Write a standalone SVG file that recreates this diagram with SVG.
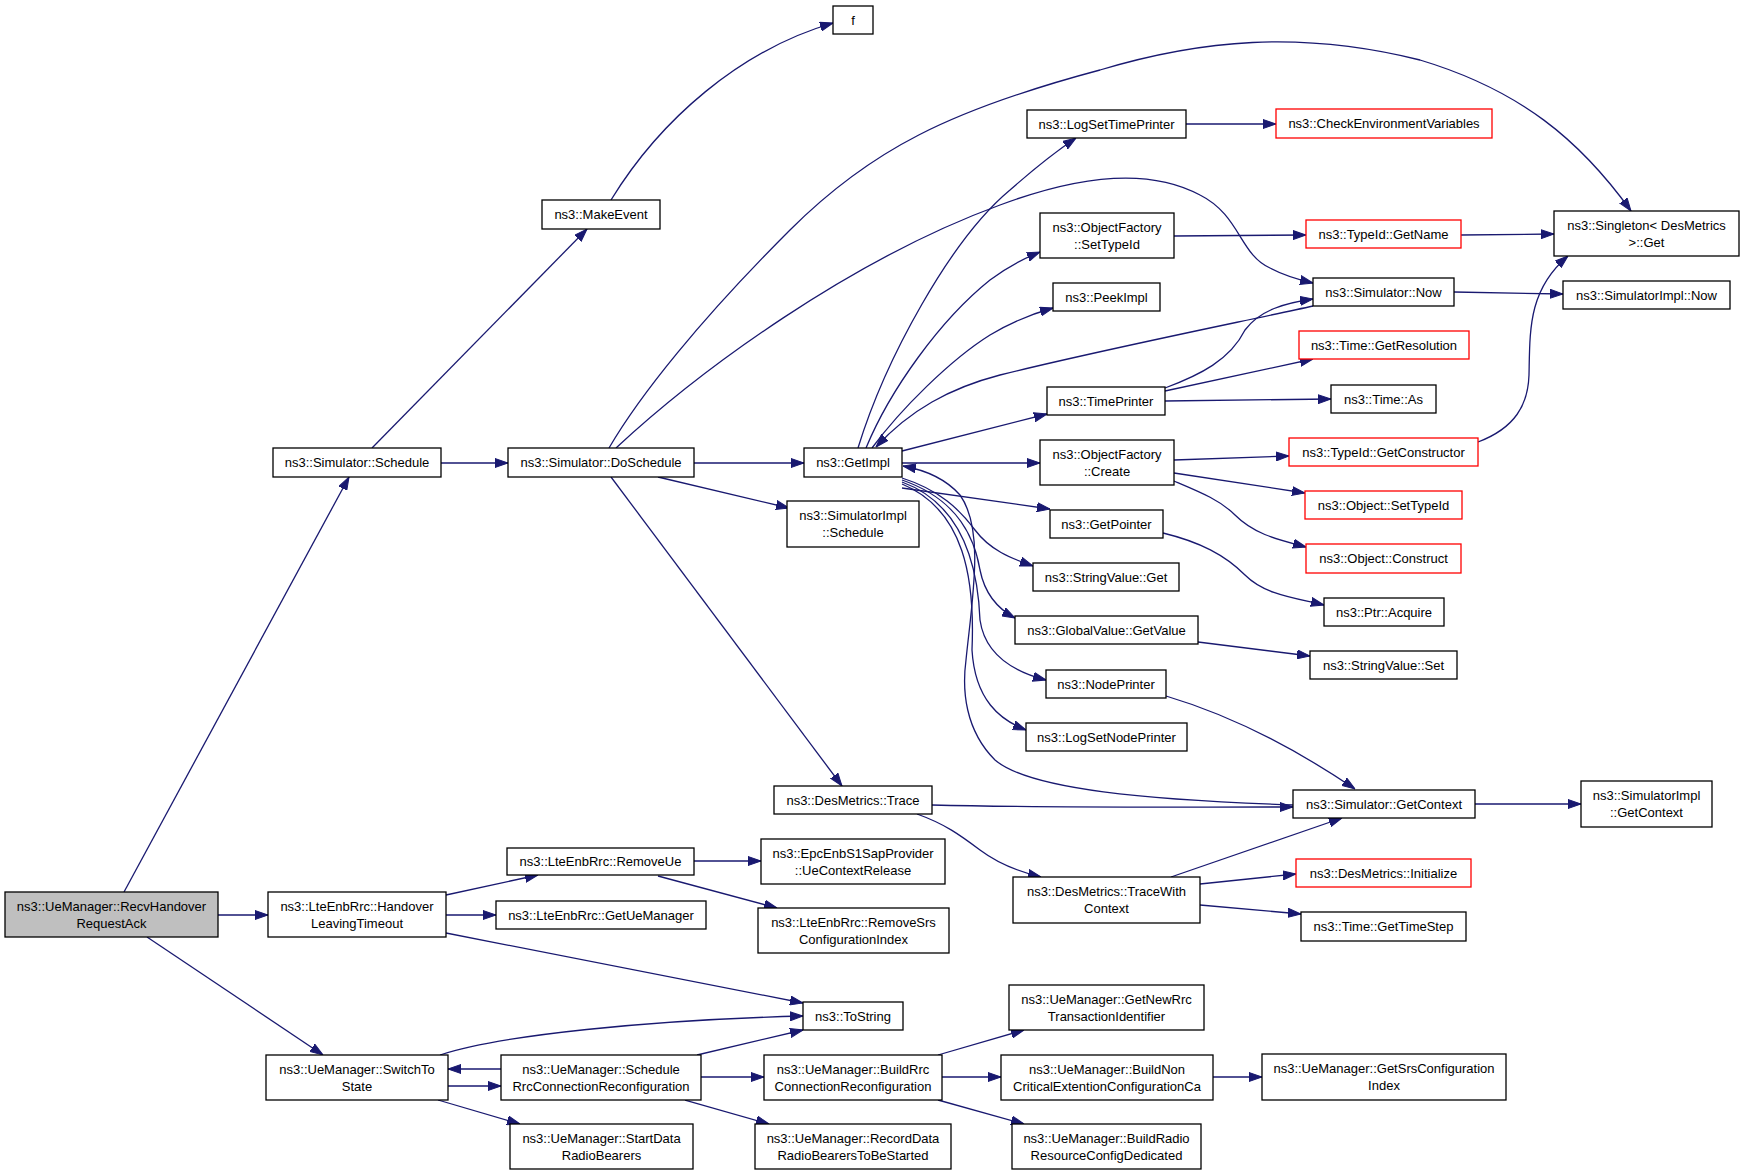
<svg xmlns="http://www.w3.org/2000/svg" width="1744" height="1175" viewBox="0 0 1744 1175">
<style>
.n rect{fill:#ffffff;stroke:#000000;stroke-width:1.3}
.n.r rect{stroke:#ff0000}
.n.g rect{fill:#bfbfbf}
.n text{font-family:"Liberation Sans",Arial,sans-serif;font-size:13px;fill:#000000;text-anchor:middle}
#edges path{fill:none;stroke:#191970;stroke-width:1.3;marker-end:url(#a)}
</style>
<defs>
<marker id="a" markerWidth="13" markerHeight="10" refX="13" refY="5" orient="auto" markerUnits="userSpaceOnUse"><path d="M0,0.5 L13,5 L0,9.5 z" fill="#191970" stroke="#191970" stroke-width="1"/></marker>
</defs>
<rect width="1744" height="1175" fill="#ffffff"/>
<g id="edges">
<path d="M124,892 L349,477"/>
<path d="M372,448 L587,229"/>
<path d="M611,200 C660,120 740,50 833,23"/>
<path d="M441,463 L508,463"/>
<path d="M609,448 C640,395 700,320 790,230 C870,150 950,110 1100,70 C1200,40 1300,30 1420,60 C1520,90 1580,140 1631,211"/>
<path d="M616,448 C700,370 850,260 1000,205 C1080,175 1150,168 1200,195 C1240,215 1240,255 1270,268 C1285,276 1300,280 1313,283"/>
<path d="M694,463 L804,463"/>
<path d="M658,477 L789,508"/>
<path d="M611,477 L842,786"/>
<path d="M858,448 C885,360 950,240 1010,190 C1035,168 1055,152 1076,138"/>
<path d="M866,448 C890,390 940,320 990,280 C1010,265 1025,258 1040,252"/>
<path d="M872,448 C900,410 950,360 990,335 C1015,320 1035,313 1053,308"/>
<path d="M1313,306 C1250,320 1100,350 1000,375 C950,388 910,410 876,447"/>
<path d="M902,451 L1047,414"/>
<path d="M1165,388 C1200,375 1230,360 1245,330 C1260,310 1285,303 1313,299"/>
<path d="M1165,391 L1313,359"/>
<path d="M1165,401 L1331,399"/>
<path d="M902,463 L1040,463"/>
<path d="M1174,460 L1289,456"/>
<path d="M1174,473 L1305,493"/>
<path d="M1174,481 C1200,492 1220,500 1235,515 C1255,535 1280,540 1306,547"/>
<path d="M1478,442 C1515,428 1528,405 1529,375 C1530,330 1528,290 1568,256"/>
<path d="M1174,236 L1306,235"/>
<path d="M1461,235 L1554,234"/>
<path d="M1186,124 L1276,124"/>
<path d="M1454,292 L1563,294"/>
<path d="M902,488 L1050,509"/>
<path d="M902,478 C940,490 960,510 975,530 C990,550 1010,558 1033,566"/>
<path d="M902,480 C960,500 975,540 980,570 C985,595 1000,610 1015,618"/>
<path d="M902,482 C965,505 978,570 980,620 C985,655 1015,672 1046,680"/>
<path d="M902,484 C965,510 975,580 972,650 C975,700 1000,720 1026,730"/>
<path d="M1293,805 C1150,800 1030,790 995,760 C965,730 962,690 966,660 C972,600 985,530 960,495 C945,478 925,470 903,466"/>
<path d="M1166,696 C1230,715 1290,745 1355,789"/>
<path d="M1163,533 C1200,542 1225,555 1245,575 C1265,595 1295,598 1324,605"/>
<path d="M1198,642 L1310,656"/>
<path d="M932,805 C1050,808 1150,807 1293,807"/>
<path d="M917,814 C945,824 960,835 980,850 C1000,865 1020,872 1041,877"/>
<path d="M1171,877 L1342,818"/>
<path d="M1200,884 L1296,874"/>
<path d="M1200,905 L1301,914"/>
<path d="M1475,804 L1581,804"/>
<path d="M218,915 L268,915"/>
<path d="M147,937 L323,1055"/>
<path d="M446,895 L538,875"/>
<path d="M446,915 L496,915"/>
<path d="M446,933 L803,1003"/>
<path d="M694,861 L761,861"/>
<path d="M658,876 L777,908"/>
<path d="M440,1055 C500,1035 650,1020 803,1016"/>
<path d="M501,1069 L448,1069"/>
<path d="M448,1086 L501,1086"/>
<path d="M438,1100 L520,1124"/>
<path d="M697,1055 L803,1030"/>
<path d="M701,1077 L764,1077"/>
<path d="M685,1100 L769,1124"/>
<path d="M938,1055 L1024,1030"/>
<path d="M942,1077 L1001,1077"/>
<path d="M938,1100 L1024,1124"/>
<path d="M1213,1077 L1262,1077"/>
</g>
<g id="n0" class="n g"><rect x="5" y="892" width="213" height="45"/><text x="111.5" y="911">ns3::UeManager::RecvHandover</text><text x="111.5" y="928">RequestAck</text></g>
<g id="n1" class="n"><rect x="273" y="448" width="168" height="29"/><text x="357" y="467">ns3::Simulator::Schedule</text></g>
<g id="n2" class="n"><rect x="542" y="200" width="118" height="29"/><text x="601" y="219">ns3::MakeEvent</text></g>
<g id="n3" class="n"><rect x="833" y="6" width="40" height="28"/><text x="853" y="24.5">f</text></g>
<g id="n4" class="n"><rect x="508" y="448" width="186" height="29"/><text x="601" y="467">ns3::Simulator::DoSchedule</text></g>
<g id="n5" class="n"><rect x="1554" y="211" width="185" height="45"/><text x="1646.5" y="230">ns3::Singleton&lt; DesMetrics</text><text x="1646.5" y="247">&gt;::Get</text></g>
<g id="n6" class="n"><rect x="1313" y="278" width="141" height="28"/><text x="1383.5" y="296.5">ns3::Simulator::Now</text></g>
<g id="n7" class="n"><rect x="804" y="448" width="98" height="29"/><text x="853" y="467">ns3::GetImpl</text></g>
<g id="n8" class="n"><rect x="787" y="501" width="132" height="46"/><text x="853" y="520">ns3::SimulatorImpl</text><text x="853" y="537">::Schedule</text></g>
<g id="n9" class="n"><rect x="774" y="786" width="158" height="28"/><text x="853" y="804.5">ns3::DesMetrics::Trace</text></g>
<g id="n10" class="n"><rect x="1027" y="110" width="159" height="28"/><text x="1106.5" y="128.5">ns3::LogSetTimePrinter</text></g>
<g id="n11" class="n r"><rect x="1276" y="109" width="216" height="29"/><text x="1384" y="128">ns3::CheckEnvironmentVariables</text></g>
<g id="n12" class="n"><rect x="1040" y="213" width="134" height="45"/><text x="1107" y="232">ns3::ObjectFactory</text><text x="1107" y="249">::SetTypeId</text></g>
<g id="n13" class="n r"><rect x="1306" y="220" width="155" height="28"/><text x="1383.5" y="238.5">ns3::TypeId::GetName</text></g>
<g id="n14" class="n"><rect x="1053" y="283" width="107" height="28"/><text x="1106.5" y="301.5">ns3::PeekImpl</text></g>
<g id="n15" class="n"><rect x="1047" y="387" width="118" height="28"/><text x="1106" y="405.5">ns3::TimePrinter</text></g>
<g id="n16" class="n r"><rect x="1299" y="331" width="170" height="28"/><text x="1384" y="349.5">ns3::Time::GetResolution</text></g>
<g id="n17" class="n"><rect x="1331" y="385" width="105" height="28"/><text x="1383.5" y="403.5">ns3::Time::As</text></g>
<g id="n18" class="n"><rect x="1040" y="440" width="134" height="45"/><text x="1107" y="459">ns3::ObjectFactory</text><text x="1107" y="476">::Create</text></g>
<g id="n19" class="n r"><rect x="1289" y="438" width="189" height="28"/><text x="1383.5" y="456.5">ns3::TypeId::GetConstructor</text></g>
<g id="n20" class="n r"><rect x="1305" y="491" width="157" height="28"/><text x="1383.5" y="509.5">ns3::Object::SetTypeId</text></g>
<g id="n21" class="n r"><rect x="1306" y="544" width="155" height="29"/><text x="1383.5" y="563">ns3::Object::Construct</text></g>
<g id="n22" class="n"><rect x="1050" y="510" width="113" height="28"/><text x="1106.5" y="528.5">ns3::GetPointer</text></g>
<g id="n23" class="n"><rect x="1324" y="598" width="120" height="28"/><text x="1384" y="616.5">ns3::Ptr::Acquire</text></g>
<g id="n24" class="n"><rect x="1033" y="563" width="146" height="28"/><text x="1106" y="581.5">ns3::StringValue::Get</text></g>
<g id="n25" class="n"><rect x="1015" y="616" width="183" height="28"/><text x="1106.5" y="634.5">ns3::GlobalValue::GetValue</text></g>
<g id="n26" class="n"><rect x="1310" y="651" width="147" height="28"/><text x="1383.5" y="669.5">ns3::StringValue::Set</text></g>
<g id="n27" class="n"><rect x="1046" y="670" width="120" height="28"/><text x="1106" y="688.5">ns3::NodePrinter</text></g>
<g id="n28" class="n"><rect x="1026" y="723" width="161" height="28"/><text x="1106.5" y="741.5">ns3::LogSetNodePrinter</text></g>
<g id="n29" class="n"><rect x="1563" y="281" width="167" height="28"/><text x="1646.5" y="299.5">ns3::SimulatorImpl::Now</text></g>
<g id="n30" class="n"><rect x="1293" y="790" width="182" height="28"/><text x="1384" y="808.5">ns3::Simulator::GetContext</text></g>
<g id="n31" class="n"><rect x="1581" y="781" width="131" height="46"/><text x="1646.5" y="800">ns3::SimulatorImpl</text><text x="1646.5" y="817">::GetContext</text></g>
<g id="n32" class="n"><rect x="1013" y="877" width="187" height="46"/><text x="1106.5" y="896">ns3::DesMetrics::TraceWith</text><text x="1106.5" y="913">Context</text></g>
<g id="n33" class="n r"><rect x="1296" y="859" width="175" height="28"/><text x="1383.5" y="877.5">ns3::DesMetrics::Initialize</text></g>
<g id="n34" class="n"><rect x="1301" y="912" width="165" height="29"/><text x="1383.5" y="931">ns3::Time::GetTimeStep</text></g>
<g id="n35" class="n"><rect x="268" y="892" width="178" height="45"/><text x="357" y="911">ns3::LteEnbRrc::Handover</text><text x="357" y="928">LeavingTimeout</text></g>
<g id="n36" class="n"><rect x="266" y="1055" width="182" height="45"/><text x="357" y="1074">ns3::UeManager::SwitchTo</text><text x="357" y="1091">State</text></g>
<g id="n37" class="n"><rect x="507" y="848" width="187" height="27"/><text x="600.5" y="866">ns3::LteEnbRrc::RemoveUe</text></g>
<g id="n38" class="n"><rect x="496" y="901" width="210" height="28"/><text x="601" y="919.5">ns3::LteEnbRrc::GetUeManager</text></g>
<g id="n39" class="n"><rect x="761" y="839" width="184" height="45"/><text x="853" y="858">ns3::EpcEnbS1SapProvider</text><text x="853" y="875">::UeContextRelease</text></g>
<g id="n40" class="n"><rect x="758" y="908" width="191" height="45"/><text x="853.5" y="927">ns3::LteEnbRrc::RemoveSrs</text><text x="853.5" y="944">ConfigurationIndex</text></g>
<g id="n41" class="n"><rect x="803" y="1002" width="100" height="28"/><text x="853" y="1020.5">ns3::ToString</text></g>
<g id="n42" class="n"><rect x="501" y="1055" width="200" height="45"/><text x="601" y="1074">ns3::UeManager::Schedule</text><text x="601" y="1091">RrcConnectionReconfiguration</text></g>
<g id="n43" class="n"><rect x="764" y="1055" width="178" height="45"/><text x="853" y="1074">ns3::UeManager::BuildRrc</text><text x="853" y="1091">ConnectionReconfiguration</text></g>
<g id="n44" class="n"><rect x="510" y="1124" width="183" height="45"/><text x="601.5" y="1143">ns3::UeManager::StartData</text><text x="601.5" y="1160">RadioBearers</text></g>
<g id="n45" class="n"><rect x="755" y="1124" width="196" height="45"/><text x="853" y="1143">ns3::UeManager::RecordData</text><text x="853" y="1160">RadioBearersToBeStarted</text></g>
<g id="n46" class="n"><rect x="1009" y="985" width="195" height="45"/><text x="1106.5" y="1004">ns3::UeManager::GetNewRrc</text><text x="1106.5" y="1021">TransactionIdentifier</text></g>
<g id="n47" class="n"><rect x="1001" y="1055" width="212" height="45"/><text x="1107" y="1074">ns3::UeManager::BuildNon</text><text x="1107" y="1091">CriticalExtentionConfigurationCa</text></g>
<g id="n48" class="n"><rect x="1012" y="1124" width="189" height="45"/><text x="1106.5" y="1143">ns3::UeManager::BuildRadio</text><text x="1106.5" y="1160">ResourceConfigDedicated</text></g>
<g id="n49" class="n"><rect x="1262" y="1054" width="244" height="46"/><text x="1384" y="1073">ns3::UeManager::GetSrsConfiguration</text><text x="1384" y="1090">Index</text></g>
</svg>
